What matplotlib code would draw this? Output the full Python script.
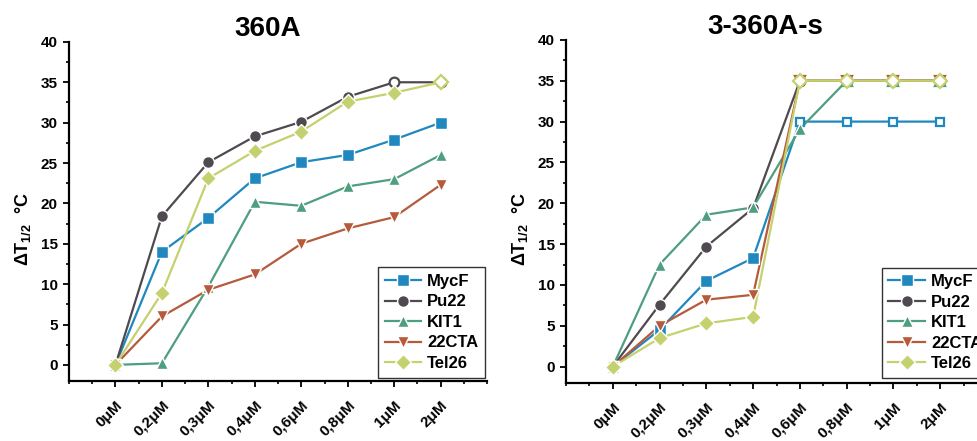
import matplotlib
matplotlib.use("Agg")
import matplotlib.pyplot as plt
from matplotlib.ticker import MultipleLocator
import numpy as np

plt.rcParams['font.family'] = ['Liberation Sans', 'DejaVu Sans']
plt.rcParams['font.weight'] = 'bold'
plt.rcParams['mathtext.fontset'] = 'custom'
plt.rcParams['mathtext.rm'] = 'Liberation Sans:bold'
plt.rcParams['mathtext.it'] = 'Liberation Sans:bold'
plt.rcParams['mathtext.bf'] = 'Liberation Sans:bold'

categories = ['0μM', '0,2μM', '0,3μM', '0,4μM', '0,6μM', '0,8μM', '1μM', '2μM']
series = ['MycF', 'Pu22', 'KIT1', '22CTA', 'Tel26']
colors = ['#1f88bf', '#4f4a50', '#4e9e80', '#b65a3b', '#c5d06e']
markers = ['s', 'o', '^', 'v', 'D']

# Panel 1: 360A
a_mycf = [0, 14.0, 18.2, 23.1, 25.1, 26.0, 27.9, 30.0]
a_pu22 = [0, 18.4, 25.1, 28.3, 30.1, 33.2, 35.0, 35.0]
a_kit1 = [0, 0.2, 9.7, 20.2, 19.7, 22.1, 23.0, 26.0]
a_22cta = [0, 6.0, 9.3, 11.2, 15.0, 16.9, 18.3, 22.3]
a_tel26 = [0, 8.9, 23.1, 26.5, 28.9, 32.6, 33.7, 35.0]
# open (saturated) markers: 1 = open
a_open_mycf = [0, 0, 0, 0, 0, 0, 0, 0]
a_open_pu22 = [0, 0, 0, 0, 0, 0, 1, 1]
a_open_kit1 = [0, 0, 0, 0, 0, 0, 0, 0]
a_open_22cta = [0, 0, 0, 0, 0, 0, 0, 0]
a_open_tel26 = [0, 0, 0, 0, 0, 0, 0, 1]

# Panel 2: 3-360A-s
b_mycf = [0, 4.5, 10.5, 13.3, 30.0, 30.0, 30.0, 30.0]
b_pu22 = [0, 7.6, 14.7, 19.4, 35.0, 35.0, 35.0, 35.0]
b_kit1 = [0, 12.5, 18.6, 19.5, 29.1, 35.0, 35.0, 35.0]
b_22cta = [0, 5.0, 8.2, 8.8, 35.0, 35.0, 35.0, 35.0]
b_tel26 = [0, 3.5, 5.3, 6.1, 35.0, 35.0, 35.0, 35.0]
b_open_mycf = [0, 0, 0, 0, 1, 1, 1, 1]
b_open_pu22 = [0, 0, 0, 0, 1, 1, 1, 1]
b_open_kit1 = [0, 0, 0, 0, 0, 1, 1, 1]
b_open_22cta = [0, 0, 0, 0, 1, 1, 1, 1]
b_open_tel26 = [0, 0, 0, 0, 1, 1, 1, 1]

panels = [
    ('360A', [a_mycf, a_pu22, a_kit1, a_22cta, a_tel26],
     [a_open_mycf, a_open_pu22, a_open_kit1, a_open_22cta, a_open_tel26]),
    ('3-360A-s', [b_mycf, b_pu22, b_kit1, b_22cta, b_tel26],
     [b_open_mycf, b_open_pu22, b_open_kit1, b_open_22cta, b_open_tel26]),
]

fig = plt.figure(figsize=(9.77, 4.41), dpi=100)
rects = [[0.0706, 0.136, 0.428, 0.769], [0.5793, 0.1315, 0.431, 0.778]]
leg_anchor = [((0.995, 0.01), 'lower right'), ((0.75, 0.015), 'lower left')]

x = np.arange(len(categories))
for (title, data, opens), rect, (anch, loc) in zip(panels, rects, leg_anchor):
    ax = fig.add_axes(rect)
    handles = []
    for vals, op, c, m, name in zip(data, opens, colors, markers, series):
        vals = np.array(vals, dtype=float)
        op = np.array(op, dtype=bool)
        ms = {'s': 8, 'o': 8.5, '^': 9, 'v': 9, 'D': 8}[m]
        ms_open = {'s': 6, 'o': 7, '^': 7, 'v': 7, 'D': 7}[m]
        ax.plot(x, vals, '-', color=c, lw=1.6, zorder=2)
        if (~op).any():
            ax.plot(x[~op], vals[~op], ls='none', marker=m, ms=ms, mfc=c,
                    mec='white', mew=1.0, zorder=3)
        if op.any():
            ax.plot(x[op], vals[op], ls='none', marker=m, ms=ms_open, mfc='white',
                    mec=c, mew=1.6, zorder=3)
        h, = ax.plot([], [], '-', color=c, lw=1.6, marker=m, ms=ms, mfc=c,
                     mec='white', mew=1.0, label=name)
        handles.append(h)
    ax.set_xlim(-1, 8)
    ax.set_ylim(-2, 40)
    ax.set_xticks(x)
    ax.set_xticklabels(categories, rotation=45, ha='right', rotation_mode='anchor',
                       fontsize=10.5, fontweight='bold')
    ax.xaxis.set_minor_locator(MultipleLocator(0.5))
    ax.yaxis.set_major_locator(MultipleLocator(5))
    ax.yaxis.set_minor_locator(MultipleLocator(2.5))
    ax.set_yticks(np.arange(0, 41, 5))
    ax.tick_params(axis='both', which='major', direction='out', length=4.5, width=1.3,
                   labelsize=11)
    ax.tick_params(axis='both', which='minor', direction='out', length=2.2, width=1.2)
    ax.tick_params(axis='x', which='major', pad=8)
    for lab in ax.get_yticklabels():
        lab.set_fontweight('bold')
    for s in ('top', 'right'):
        ax.spines[s].set_visible(False)
    for s in ('left', 'bottom'):
        ax.spines[s].set_linewidth(1.6)
    ax.set_title(title, fontsize=20, fontweight='bold', x=0.474, pad=4)
    ax.set_ylabel(r'$\Delta T_{1/2}\ \ °C$', fontsize=13)
    ax.yaxis.set_label_coords(-0.085, 0.45)
    leg = ax.legend(handles=handles, loc=loc, bbox_to_anchor=anch, fontsize=12,
                    frameon=True, fancybox=False, edgecolor='black',
                    handlelength=2.2, handletextpad=0.35, labelspacing=0.33,
                    borderpad=0.4, borderaxespad=0)
    leg.get_frame().set_linewidth(1.0)
    for t in leg.get_texts():
        t.set_fontweight('bold')

fig.savefig('out.png', dpi=100)
